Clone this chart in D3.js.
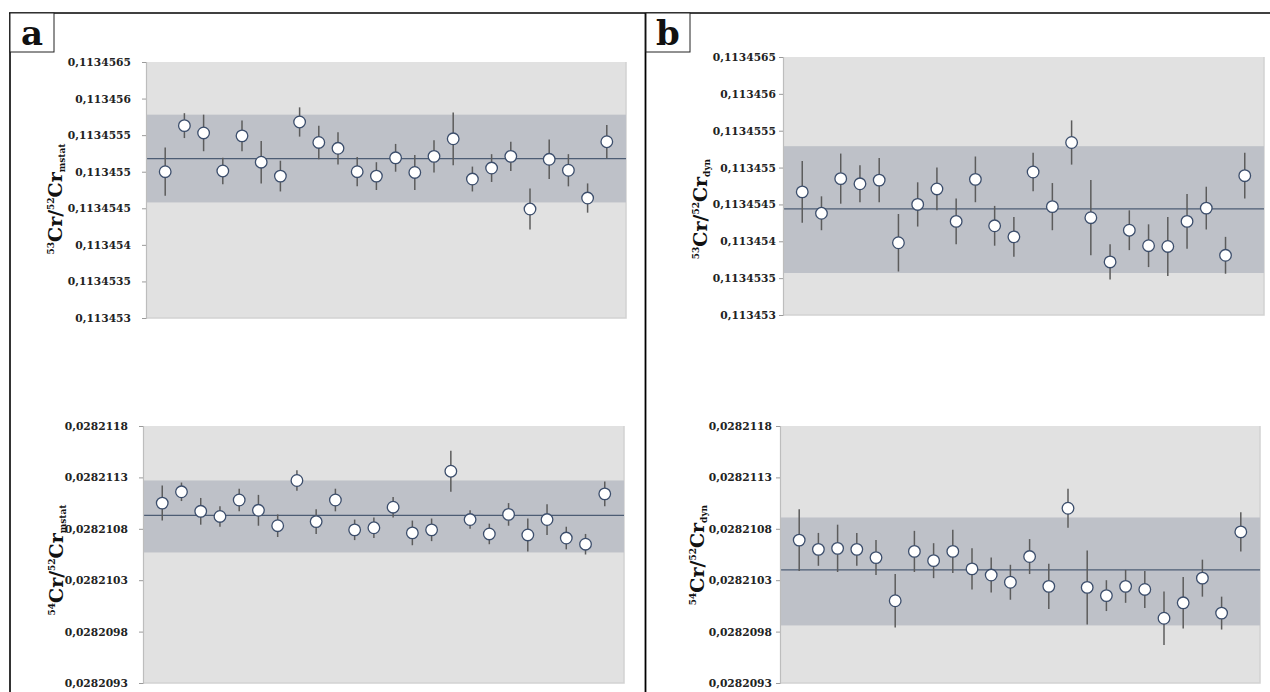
<!DOCTYPE html>
<html>
<head>
<meta charset="utf-8">
<script src="https://cdn.jsdelivr.net/npm/d3@7"></script>
<style>
  html, body { margin: 0; padding: 0; background: #fff; }
  svg { display: block; }
  .tick text { font-family: "DejaVu Serif", serif; font-weight: bold; }
</style>
</head>
<body>
<svg id="chart" width="1270" height="692"></svg>
<script>
// ---------- data ----------
const runs = d3.range(1, 25); // 24 measurements

const ticks53 = [0.113453, 0.1134535, 0.113454, 0.1134545, 0.113455, 0.1134555, 0.113456, 0.1134565];
const tickLabels53 = ["0,113453", "0,1134535", "0,113454", "0,1134545", "0,113455", "0,1134555", "0,113456", "0,1134565"];
const ticks54 = [0.0282093, 0.0282098, 0.0282103, 0.0282108, 0.0282113, 0.0282118];
const tickLabels54 = ["0,0282093", "0,0282098", "0,0282103", "0,0282108", "0,0282113", "0,0282118"];

// (a) 53Cr/52Cr mstat
const a53Values = [0.11345500, 0.11345563, 0.11345553, 0.11345501, 0.11345549, 0.11345513, 0.11345494, 0.11345568,
                   0.11345540, 0.11345532, 0.11345500, 0.11345494, 0.11345519, 0.11345499, 0.11345521, 0.11345545,
                   0.11345490, 0.11345505, 0.11345521, 0.11345449, 0.11345517, 0.11345502, 0.11345464, 0.11345541];
const a53Errors = [0.33, 0.17, 0.25, 0.18, 0.21, 0.29, 0.21, 0.20, 0.23, 0.22, 0.20, 0.19,
                   0.19, 0.24, 0.22, 0.36, 0.17, 0.19, 0.20, 0.28, 0.27, 0.22, 0.20, 0.23].map(e => e * 1e-6);
const a53Mean = 0.11345518;
const a53Band = [0.11345458, 0.11345578];

// (b) 53Cr/52Cr dyn
const b53Values = [0.11345467, 0.11345438, 0.11345485, 0.11345478, 0.11345483, 0.11345398, 0.11345450, 0.11345471,
                   0.11345427, 0.11345484, 0.11345421, 0.11345406, 0.11345494, 0.11345447, 0.11345534, 0.11345432,
                   0.11345372, 0.11345415, 0.11345394, 0.11345393, 0.11345427, 0.11345445, 0.11345381, 0.11345489];
const b53Errors = [0.42, 0.23, 0.34, 0.25, 0.30, 0.39, 0.30, 0.29, 0.31, 0.31, 0.27, 0.27,
                   0.26, 0.32, 0.30, 0.51, 0.24, 0.27, 0.29, 0.40, 0.37, 0.29, 0.25, 0.31].map(e => e * 1e-6);
const b53Mean = 0.11345444;
const b53Band = [0.11345357, 0.11345529];

// (a) 54Cr/52Cr mstat
const a54Values = [0.02821105, 0.02821116, 0.02821097, 0.02821092, 0.02821108, 0.02821098, 0.02821083, 0.02821127,
                   0.02821087, 0.02821108, 0.02821079, 0.02821081, 0.02821101, 0.02821076, 0.02821079, 0.02821136,
                   0.02821089, 0.02821075, 0.02821094, 0.02821074, 0.02821089, 0.02821071, 0.02821065, 0.02821114];
const a54Errors = [0.17, 0.09, 0.13, 0.10, 0.11, 0.15, 0.11, 0.10, 0.12, 0.11, 0.10, 0.10,
                   0.10, 0.12, 0.11, 0.20, 0.09, 0.10, 0.11, 0.16, 0.15, 0.11, 0.10, 0.12].map(e => e * 1e-6);
const a54Mean = 0.02821093;
const a54Band = [0.02821057, 0.02821127];

// (b) 54Cr/52Cr dyn
const b54Values = [0.02821069, 0.02821060, 0.02821061, 0.02821060, 0.02821052, 0.02821010, 0.02821058, 0.02821049,
                   0.02821058, 0.02821041, 0.02821035, 0.02821028, 0.02821053, 0.02821024, 0.02821100, 0.02821023,
                   0.02821015, 0.02821024, 0.02821021, 0.02820993, 0.02821008, 0.02821032, 0.02820998, 0.02821077];
const b54Errors = [0.30, 0.16, 0.23, 0.16, 0.17, 0.26, 0.20, 0.17, 0.21, 0.20, 0.17, 0.17,
                   0.17, 0.22, 0.19, 0.36, 0.15, 0.16, 0.18, 0.26, 0.25, 0.18, 0.16, 0.19].map(e => e * 1e-6);
const b54Mean = 0.0282104;
const b54Band = [0.02820986, 0.02821091];

// ---------- layout ----------
const panels = [
  { box: [146, 626, 62, 318], values: a53Values, errors: a53Errors, mean: a53Mean, band: a53Band,
    ticks: ticks53, labels: tickLabels53, iso: "53", sub: "mstat", title: [62, 199], pad: 11 },
  { box: [783, 1264, 57, 315], values: b53Values, errors: b53Errors, mean: b53Mean, band: b53Band,
    ticks: ticks53, labels: tickLabels53, iso: "53", sub: "dyn", title: [707, 209], pad: 3 },
  { box: [143, 624, 426, 683], values: a54Values, errors: a54Errors, mean: a54Mean, band: a54Band,
    ticks: ticks54, labels: tickLabels54, iso: "54", sub: "mstat", title: [63, 560], pad: 11 },
  { box: [780, 1260, 426, 683], values: b54Values, errors: b54Errors, mean: b54Mean, band: b54Band,
    ticks: ticks54, labels: tickLabels54, iso: "54", sub: "dyn", title: [704, 555], pad: 4 }
];

const svg = d3.select("#chart");

// frame
svg.append("line").attr("x1", 9).attr("x2", 1270).attr("y1", 13).attr("y2", 13).attr("stroke", "#000").attr("stroke-width", 1.6);
svg.append("line").attr("x1", 10).attr("x2", 10).attr("y1", 13).attr("y2", 692).attr("stroke", "#000").attr("stroke-width", 1.6);
svg.append("line").attr("x1", 645.5).attr("x2", 645.5).attr("y1", 13).attr("y2", 692).attr("stroke", "#000").attr("stroke-width", 1.8);

// panel letters
[["a", 10, 54], ["b", 646, 690]].forEach(([t, x0, x1]) => {
  svg.append("rect").attr("x", x0).attr("y", 13).attr("width", x1 - x0).attr("height", 39)
    .attr("fill", "#fff").attr("stroke", "#222").attr("stroke-width", 1);
  svg.append("text").attr("x", (x0 + x1) / 2).attr("y", 45).attr("text-anchor", "middle")
    .attr("font-family", "DejaVu Serif, serif").attr("font-weight", "bold").attr("font-size", 34)
    .attr("fill", "#111").text(t);
});

panels.forEach(p => {
  const [x0, x1, y0, y1] = p.box;
  const x = d3.scaleLinear().domain([0, 25]).range([x0, x1]);
  const y = d3.scaleLinear().domain([p.ticks[0], p.ticks[p.ticks.length - 1]]).range([y1, y0]);
  const g = svg.append("g");

  // plot background
  g.append("rect").attr("x", x0).attr("y", y0).attr("width", x1 - x0).attr("height", y1 - y0).attr("fill", "#e1e1e1");
  // subtle right/bottom edge
  g.append("path").attr("d", `M${x1},${y0}V${y1}H${x0}`).attr("fill", "none").attr("stroke", "#d2d2d2").attr("stroke-width", 1.5);

  // ±2SD band
  g.append("rect").attr("x", x0).attr("width", x1 - x0)
    .attr("y", y(p.band[1])).attr("height", y(p.band[0]) - y(p.band[1])).attr("fill", "#bec1c8");

  // mean line
  g.append("line").attr("x1", x0).attr("x2", x1).attr("y1", y(p.mean)).attr("y2", y(p.mean))
    .attr("stroke", "#4d5d74").attr("stroke-width", 1.3);

  // axis
  const axis = d3.axisLeft(y).tickValues(p.ticks).tickFormat((d, i) => p.labels[i]).tickSize(4).tickPadding(p.pad);
  const ag = g.append("g").attr("transform", `translate(${x0},0)`).call(axis);
  ag.select(".domain").attr("stroke", "#bdbdbd").attr("stroke-width", 1.2);
  ag.selectAll(".tick line").attr("stroke", "#9a9a9a");
  ag.selectAll(".tick text").attr("font-size", 10.7).attr("fill", "#222");

  // error bars
  g.selectAll(".err").data(runs).join("line")
    .attr("x1", d => x(d)).attr("x2", d => x(d))
    .attr("y1", (d, i) => y(p.values[i] + p.errors[i]))
    .attr("y2", (d, i) => y(p.values[i] - p.errors[i]))
    .attr("stroke", "#5c5c5c").attr("stroke-width", 1.5);

  // points
  g.selectAll(".pt").data(runs).join("circle")
    .attr("cx", d => x(d)).attr("cy", (d, i) => y(p.values[i])).attr("r", 5.8)
    .attr("fill", "#fff").attr("stroke", "#3c4e6c").attr("stroke-width", 1.3);

  // y title
  const t = svg.append("text")
    .attr("transform", `translate(${p.title[0]},${p.title[1]}) rotate(-90)`)
    .attr("text-anchor", "middle")
    .attr("font-family", "DejaVu Serif, serif").attr("font-weight", "bold").attr("font-size", 19).attr("fill", "#111");
  t.append("tspan").attr("font-size", 9).attr("dy", -8).text(p.iso);
  t.append("tspan").attr("dy", 8).text("Cr/");
  t.append("tspan").attr("font-size", 9).attr("dy", -8).text("52");
  t.append("tspan").attr("dy", 8).text("Cr");
  t.append("tspan").attr("font-size", 9).attr("dy", 3).text(p.sub);
});
</script>
</body>
</html>
